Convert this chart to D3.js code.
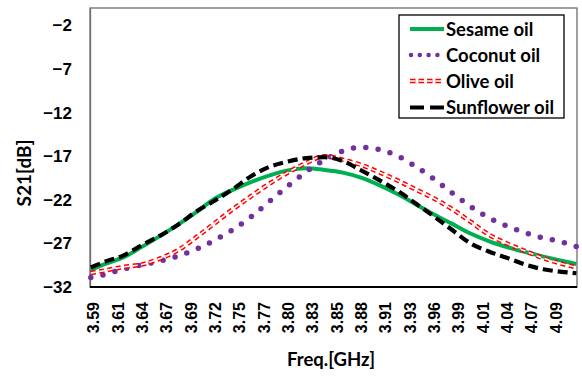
<!DOCTYPE html>
<html>
<head>
<meta charset="utf-8">
<script src="https://cdn.jsdelivr.net/npm/d3@7"></script>
<style>
  body { margin: 0; background: #fff; }
  svg { display: block; font-family: Lato, "Open Sans", sans-serif; font-weight: bold; }
</style>
</head>
<body>
<div id="chart"></div>
<script>
// data (S21 in dB against frequency in GHz)
const freqGHz = [3.584, 3.60, 3.62, 3.64, 3.66, 3.68, 3.70, 3.72, 3.74, 3.76, 3.78, 3.80, 3.82, 3.84,
  3.86, 3.88, 3.90, 3.92, 3.94, 3.96, 3.98, 4.00, 4.02, 4.04, 4.06, 4.08, 4.10, 4.116];
const sesame = [-30.05, -29.36, -28.58, -27.40, -26.14, -24.82, -23.38, -21.85, -20.83, -19.94, -19.19, -18.62, -18.39, -18.57,
  -18.88, -19.46, -20.32, -21.34, -22.51, -23.68, -24.76, -25.86, -26.73, -27.42, -27.99, -28.51, -28.99, -29.36];
const coconut = [-30.91, -30.56, -29.93, -29.47, -29.01, -28.44, -27.64, -26.61, -25.40, -23.91, -22.16, -20.41, -18.78, -17.43,
  -16.40, -15.97, -16.23, -16.97, -18.18, -19.61, -21.22, -22.76, -24.06, -25.00, -25.77, -26.38, -26.83, -27.35];
const olive = [-30.39, -30.10, -29.70, -29.42, -28.73, -27.75, -26.26, -24.66, -23.05, -21.56, -20.13, -18.86, -17.78, -17.00,
  -17.39, -18.00, -18.84, -19.78, -20.81, -21.85, -23.08, -24.51, -25.99, -27.02, -27.88, -28.70, -29.33, -29.74];
const sunflower = [-29.76, -29.08, -28.37, -27.19, -26.11, -24.82, -23.31, -22.08, -20.75, -19.27, -18.21, -17.61, -17.21, -17.11,
  -17.55, -18.61, -19.74, -20.97, -22.42, -23.91, -25.46, -27.00, -27.92, -28.66, -29.43, -29.97, -30.26, -30.42];
const xTickLabels = ["3.59", "3.61", "3.64", "3.67", "3.69", "3.72", "3.75", "3.77", "3.80", "3.83",
  "3.85", "3.88", "3.91", "3.93", "3.96", "3.99", "4.01", "4.04", "4.07", "4.09"];
const yTicks = [-32, -27, -22, -17, -12, -7, -2];
const seriesNames = ["Sesame oil", "Coconut oil", "Olive oil", "Sunflower oil"];

const width = 582, height = 378;
const plot = { left: 90, right: 577, top: 8, bottom: 287 };

const svg = d3.select("#chart").append("svg").attr("width", width).attr("height", height);

const x = d3.scaleLinear().domain([3.5831, 4.1167]).range([plot.left, plot.right]);
const y = d3.scaleLinear().domain([-32, 0]).range([plot.bottom, plot.top]);
// category-style labels sit every 0.02667 GHz starting at 3.5867
const xLabelScale = d3.scalePoint().domain(xTickLabels).range([x(3.5867), x(4.0933)]);

// plot frame
svg.append("rect")
  .attr("x", plot.left).attr("y", plot.top)
  .attr("width", plot.right - plot.left).attr("height", plot.bottom - plot.top)
  .attr("fill", "none").attr("stroke", "#6e6e6e").attr("stroke-width", 1.3);

// axes
const yAxis = d3.axisLeft(y).tickValues(yTicks).tickSize(0).tickPadding(18);
svg.append("g").attr("transform", `translate(${plot.left},0)`).call(yAxis)
  .call(g => g.select(".domain").attr("stroke", "#6e6e6e").attr("stroke-width", 1.3))
  .selectAll("text").attr("font-size", 17).attr("fill", "#000");

const xAxis = d3.axisBottom(xLabelScale).tickSize(0);
svg.append("g").attr("transform", `translate(0,${plot.bottom})`).call(xAxis)
  .call(g => g.select(".domain").attr("d", `M${plot.left},0H${plot.right}`).attr("stroke", "#000").attr("stroke-width", 1.8))
  .selectAll("text")
  .attr("font-size", 16).attr("fill", "#000")
  .attr("transform", "rotate(-90)")
  .attr("text-anchor", "end")
  .attr("x", -15).attr("y", 0).attr("dy", "0.35em");

svg.append("text").text("Freq.[GHz]")
  .attr("x", 331).attr("y", 366).attr("text-anchor", "middle").attr("font-size", 18.5);
svg.append("text").text("S21[dB]")
  .attr("transform", "translate(31,173) rotate(-90)").attr("text-anchor", "middle").attr("font-size", 19);

// curves
const line = d3.line().x((d, i) => x(freqGHz[i])).y(d => y(d)).curve(d3.curveMonotoneX);
const curves = svg.append("g");

curves.append("path").datum(sesame).attr("d", line)
  .attr("fill", "none").attr("stroke", "#00b050").attr("stroke-width", 4);

curves.append("path").datum(coconut).attr("d", line)
  .attr("fill", "none").attr("stroke", "#7030a0").attr("stroke-width", 5.5)
  .attr("stroke-linecap", "round").attr("stroke-dasharray", "0 12.4");

// olive: double dashed line = wide red dash with a thin white core
curves.append("path").datum(olive).attr("d", line)
  .attr("fill", "none").attr("stroke", "#ff0000").attr("stroke-width", 4.6).attr("stroke-dasharray", "5 3.5");
curves.append("path").datum(olive).attr("d", line)
  .attr("fill", "none").attr("stroke", "#fff").attr("stroke-width", 1.6).attr("stroke-dasharray", "5 3.5");

curves.append("path").datum(sunflower).attr("d", line)
  .attr("fill", "none").attr("stroke", "#000").attr("stroke-width", 4.2).attr("stroke-dasharray", "10 5");

// legend
const legend = svg.append("g");
legend.append("rect").attr("x", 399).attr("y", 15).attr("width", 165).attr("height", 103)
  .attr("fill", "#fff").attr("stroke", "#000").attr("stroke-width", 1.3);
const rowY = [29, 55, 81, 107.5];
const sample = (i) => `M410,${rowY[i]}H444`;
legend.append("path").attr("d", sample(0)).attr("stroke", "#00b050").attr("stroke-width", 4);
legend.append("path").attr("d", `M411,${rowY[1]}H441`).attr("stroke", "#7030a0").attr("stroke-width", 4.5)
  .attr("stroke-linecap", "round").attr("stroke-dasharray", "0 8.8");
legend.append("path").attr("d", sample(2)).attr("stroke", "#ff0000").attr("stroke-width", 4.6).attr("stroke-dasharray", "5.5 3");
legend.append("path").attr("d", sample(2)).attr("stroke", "#fff").attr("stroke-width", 1.6).attr("stroke-dasharray", "5.5 3");
legend.append("path").attr("d", sample(3)).attr("stroke", "#000").attr("stroke-width", 4.2).attr("stroke-dasharray", "14 6");
legend.selectAll("text.lbl").data(seriesNames).join("text").attr("class", "lbl")
  .attr("x", 446).attr("y", (d, i) => rowY[i]).attr("dy", "0.36em")
  .attr("font-size", 18.5).text(d => d);
</script>
</body>
</html>
